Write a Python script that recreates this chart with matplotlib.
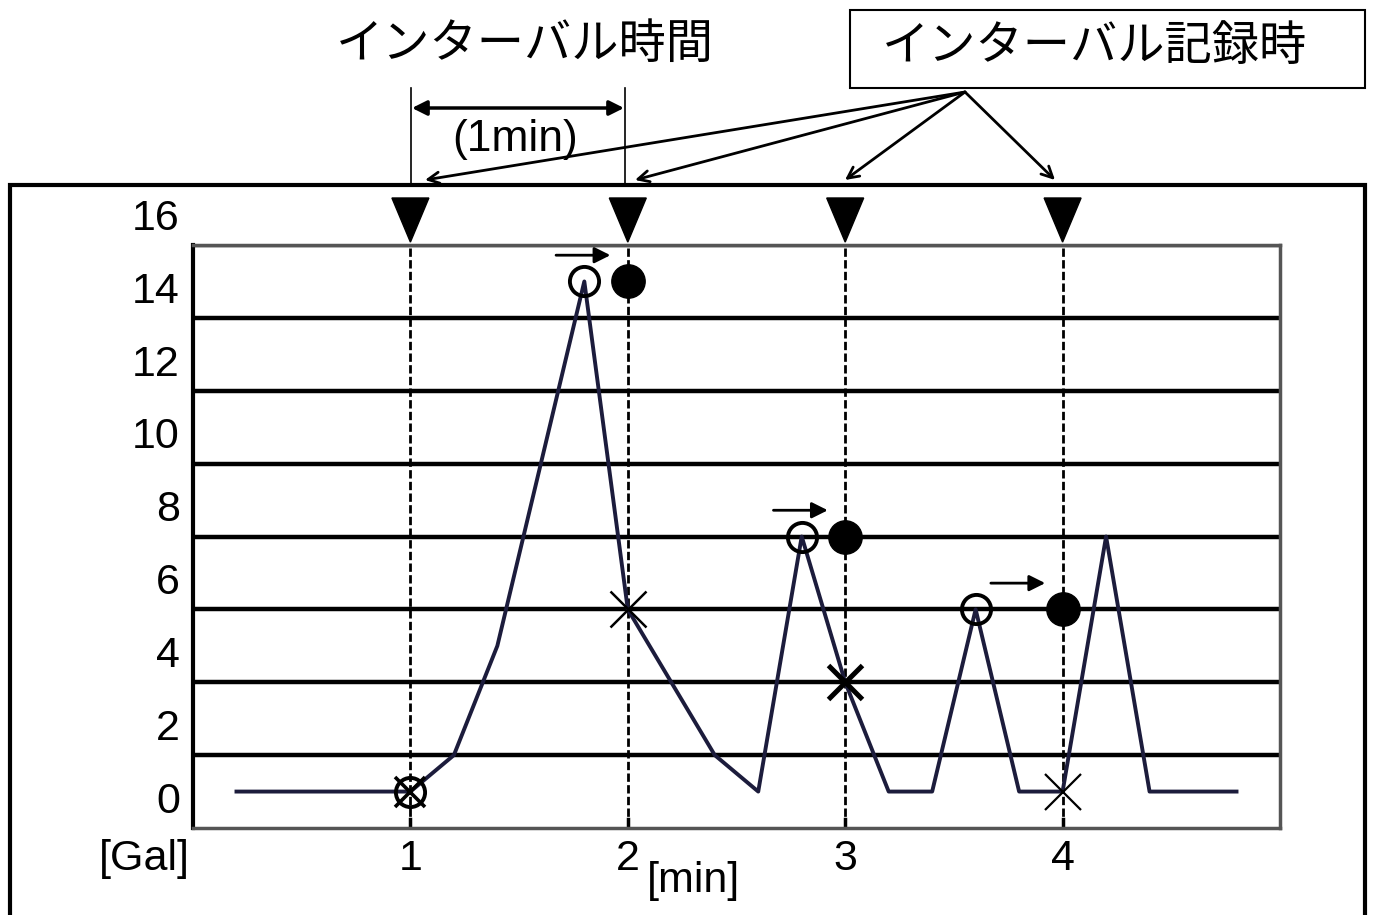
import matplotlib
matplotlib.use("Agg")
import matplotlib.pyplot as plt
from matplotlib.patches import Polygon, Rectangle, FancyArrowPatch
from matplotlib.lines import Line2D

# ---- data ----
time_min = [0.2, 1.0, 1.2, 1.4, 1.6, 1.8, 2.0, 2.2, 2.4, 2.6, 2.8, 3.0, 3.2, 3.4, 3.6, 3.8, 4.0, 4.2, 4.4, 4.8]
accel_gal = [1, 1, 2, 5, 10, 15, 6, 4, 2, 1, 8, 4, 1, 1, 6, 1, 1, 8, 1, 1]

peak_x = [1.0, 1.8, 2.8, 3.6]
peak_y = [1, 15, 8, 6]

record_x = [2, 3, 4]
record_y = [15, 8, 6]

instant_x = [1, 2, 3, 4]
instant_y = [1, 6, 4, 1]

record_times = [1, 2, 3, 4]
x_ticks = [1, 2, 3, 4]
x_tick_labels = ["1", "2", "3", "4"]
y_ticks = [0, 2, 4, 6, 8, 10, 12, 14, 16]

# per-marker styles for the "x" marks (size, line width)
x_styles = [(22, 2.6), (26, 1.8), (24, 3.6), (26, 1.6)]

W, H = 1375, 915
fig = plt.figure(figsize=(W / 100, H / 100), dpi=100)

def fx(x):
    return x / W

def fy(y):
    return 1 - y / H

ax = fig.add_axes([fx(193), fy(828), fx(1280) - fx(193), fy(245) - fy(828)])
ax.set_xlim(0, 5)
ax.set_ylim(0, 16)
ax.set_xticks([])
ax.set_yticks([])
for s in ["top", "right", "bottom"]:
    ax.spines[s].set_color("#555555")
    ax.spines[s].set_linewidth(2.5)
ax.spines["left"].set_color("black")
ax.spines["left"].set_linewidth(3)

NUM = "Liberation Sans"
JP = ["Noto Sans CJK JP", "DejaVu Sans"]
FS = 31

# horizontal grid lines
for v in y_ticks[1:-1]:
    ax.axhline(v, color="black", lw=3.2, zorder=1)
ax.axhline(16, color="#333333", lw=2.5, zorder=1)

# vertical dashed record lines
for t in record_times:
    ax.plot([t, t], [0, 16], color="black", lw=2, dashes=(3, 1.2), zorder=2)
    ax.plot([t, t], [0, 0.25], color="black", lw=2.5, zorder=2)

# data line
ax.plot(time_min, accel_gal, color="#1c1c3c", lw=2.8, zorder=3)

# markers
ax.plot(peak_x, peak_y, ls="none", marker="o", ms=21, mfc="none", mec="black", mew=2.8, zorder=4)
ax.plot(record_x, record_y, ls="none", marker="o", ms=24, mfc="black", mec="black", zorder=4)
for (ix, iy), (ms, mw) in zip(zip(instant_x, instant_y), x_styles):
    ax.plot([ix], [iy], ls="none", marker="x", ms=ms, mec="black", mew=mw, zorder=5)

# small arrows pointing to filled dots
for rx, ry in zip(record_x, record_y):
    ax.annotate("", xy=(rx - 0.08, ry + 0.72), xytext=(rx - 0.33, ry + 0.72),
                arrowprops=dict(arrowstyle="-|>", color="black", lw=2,
                                mutation_scale=24, shrinkA=0, shrinkB=0),
                zorder=6, annotation_clip=False)

# triangles above record times
for t in record_times:
    tri = Polygon([[t - 0.085, 17.29], [t + 0.085, 17.29], [t, 16.08]],
                  closed=True, facecolor="black", edgecolor="black", clip_on=False, zorder=6)
    ax.add_patch(tri)

# y tick labels (shifted upward like the reference)
for v in y_ticks:
    ax.text(-0.06, v + 0.72, str(v), ha="right", va="center", fontsize=FS, family=NUM)

# x tick labels
for t, lab in zip(x_ticks, x_tick_labels):
    ax.text(t, -0.85, lab, ha="center", va="center", fontsize=FS, family=NUM)
ax.text(-0.225, -0.85, "[Gal]", ha="center", va="center", fontsize=FS, family=NUM)
ax.text(2.3, -1.45, "[min]", ha="center", va="center", fontsize=FS, family=NUM)

# outer frame
fig.add_artist(Rectangle((fx(10), -0.02), fx(1365) - fx(10), fy(185) + 0.02,
                         transform=fig.transFigure, fill=False, edgecolor="black", lw=3))

# interval annotation
for xp in (411, 625):
    fig.add_artist(Line2D([fx(xp), fx(xp)], [fy(88), fy(185)], transform=fig.transFigure,
                          color="black", lw=1.2))
fig.add_artist(FancyArrowPatch((fx(412), fy(108)), (fx(624), fy(108)), transform=fig.transFigure,
                               arrowstyle="<|-|>", mutation_scale=22, color="black", lw=2.5,
                               shrinkA=0, shrinkB=0))
fig.text(fx(515), fy(140), "(1min)", ha="center", va="center", fontsize=FS + 1, family=NUM)
fig.text(fx(525), fy(45), "インターバル時間", ha="center", va="center", fontsize=34, family=JP)

# record time box
fig.add_artist(Rectangle((fx(850), fy(88)), fx(1365) - fx(850), fy(10) - fy(88),
                         transform=fig.transFigure, fill=False, edgecolor="black", lw=1.5))
fig.text(fx(1095), fy(47), "インターバル記録時", ha="center", va="center", fontsize=34, family=JP)

origin = (fx(965), fy(92))
for tx in (425, 635, 845, 1055):
    fig.add_artist(FancyArrowPatch(origin, (fx(tx), fy(180)), transform=fig.transFigure,
                                   arrowstyle="->", mutation_scale=20, color="black", lw=2,
                                   shrinkA=0, shrinkB=0))

fig.savefig("out.png", dpi=100)
